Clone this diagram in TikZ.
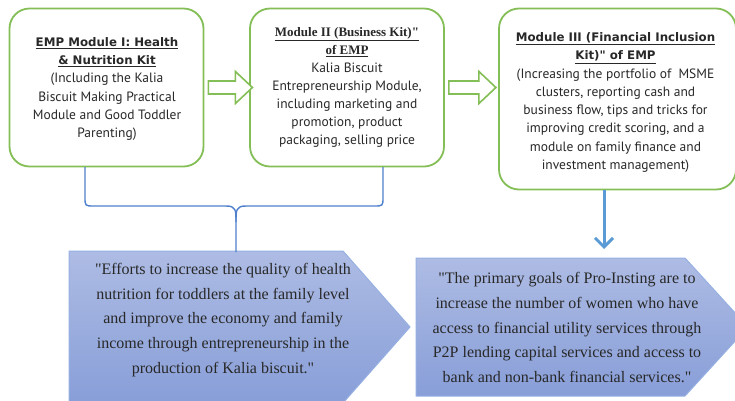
\documentclass[tikz,border=0pt]{standalone}
\usepackage{fontspec}
\newfontfamily\goalfont{Liberation Serif}
\newfontfamily\boxfont{PT Sans}
\newfontfamily\headfont{DejaVu Sans}
\usetikzlibrary{arrows.meta,calc}

\definecolor{modgreen}{RGB}{132,190,86}
\definecolor{linkblue}{RGB}{78,128,205}
\definecolor{arrowblue}{RGB}{91,155,213}
\definecolor{goaltop}{RGB}{174,188,228}
\definecolor{goalbot}{RGB}{136,158,216}
\definecolor{goaledge}{RGB}{150,176,226}
\definecolor{inktext}{RGB}{40,40,40}

\newcommand\sq{\char34\relax}
\newcommand\headline[1]{{\headfont\bfseries\fontsize{11.8}{18.3}\selectfont\underline{#1}}}
\newcommand\serifhead[1]{{\goalfont\bfseries\fontsize{13}{18.1}\selectfont\underline{#1}}}

\tikzset{
  modbox/.style={draw=modgreen, line width=1.8pt, rounded corners=20pt,
    fill=white},
  boxtext/.style={align=center, text=inktext, inner sep=0pt,
    font=\boxfont\fontsize{13.5}{18.3}\selectfont},
  hollowarrow/.style={draw=modgreen, line width=1.6pt, fill=white},
  goalshape/.style={draw=goaledge, line width=1pt,
    top color=goaltop, bottom color=goalbot},
  goaltext/.style={align=center, text=inktext,
    font=\goalfont\fontsize{16}{24.8}\selectfont},
  bracelink/.style={draw=linkblue, line width=1.4pt},
  downlink/.style={draw=arrowblue, line width=3pt,
    -{Straight Barb[length=9pt,width=18pt,line width=3pt]}}
}

\begin{document}
\begin{tikzpicture}[x=1pt,y=-1pt]
\useasboundingbox (0,0) rectangle (735,400);
\clip (0,0) rectangle (735,400);

% module boxes
\node[modbox, minimum width=194pt, minimum height=158pt] (box1) at (106.5,87.5) {};
\node[boxtext] (box1text) at (107,89)
  {\headline{EMP Module I: Health}\\
   \headline{\& Nutrition Kit}\\
   (Including the Kalia\\
   Biscuit Making Practical\\
   Module and Good Toddler\\
   Parenting)};

\node[modbox, minimum width=194pt, minimum height=158pt] (box2) at (347,87.5) {};
\node[boxtext, font=\boxfont\fontsize{13.5}{18.1}\selectfont] (box2text) at (347,87.5)
  {\serifhead{Module II (Business Kit)\sq}\\
   \serifhead{of EMP}\\
   Kalia Biscuit\\
   Entrepreneurship Module,\\
   including marketing and\\
   promotion, product\\
   packaging, selling price};

\node[modbox, minimum width=237pt, minimum height=181pt] (box3) at (617.5,99) {};
\node[boxtext] (box3text) at (615.5,102.5)
  {\headline{Module III (Financial Inclusion}\\
   \headline{Kit)\sq{} of EMP}\\
   (Increasing the portfolio of~ MSME\\
   clusters, reporting cash and\\
   business flow, tips and tricks for\\
   improving credit scoring, and a\\
   module on family finance and\\
   investment management)};

% hollow block arrows between the modules
\draw[hollowarrow]
  ($(box1.east)+(4,-6.5)$) -- ++(27,0) -- ++(0,-9.5) -- ++(17,16)
  -- ++(-17,16) -- ++(0,-9.5) -- ++(-27,0) -- cycle;
\draw[hollowarrow]
  ($(box2.east)+(4,-6.5)$) -- ++(30,0) -- ++(0,-9.5) -- ++(17,16)
  -- ++(-17,16) -- ++(0,-9.5) -- ++(-30,0) -- cycle;

% goal banners
\path[goalshape] (69,251) -- (343,251) -- (410,327) -- (343,403) -- (69,403) -- cycle;
\node[goaltext] (goal1) at (223,320)
  {\sq Efforts to increase the quality of health\\
   nutrition for toddlers at the family level\\
   and improve the economy and family\\
   income through entrepreneurship in the\\
   production of Kalia biscuit.\sq};

\path[goalshape] (416,258) -- (685,258) -- (748,327) -- (685,396) -- (416,396) -- cycle;
\node[goaltext] (goal2) at (567,327.5)
  {\sq The primary goals of Pro-Insting are to\\
   increase the number of women who have\\
   access to financial utility services through\\
   P2P lending capital services and access to\\
   bank and non-bank financial services.\sq};

% brace joining modules I and II to the first goal
\coordinate (tip) at (236,252);
\draw[bracelink] (85,167) -- (85,197) .. controls (85,206) .. (94,206)
  -- (226,206) .. controls (236,206) and (236,210) .. (236,222) -- (tip);
\draw[bracelink] (383,167) -- (383,197) .. controls (383,206) .. (374,206)
  -- (246,206) .. controls (236,206) and (236,210) .. (236,222);

% module III leads to the second goal
\draw[downlink] (604,190) -- (604,249);
\end{tikzpicture}
\end{document}
